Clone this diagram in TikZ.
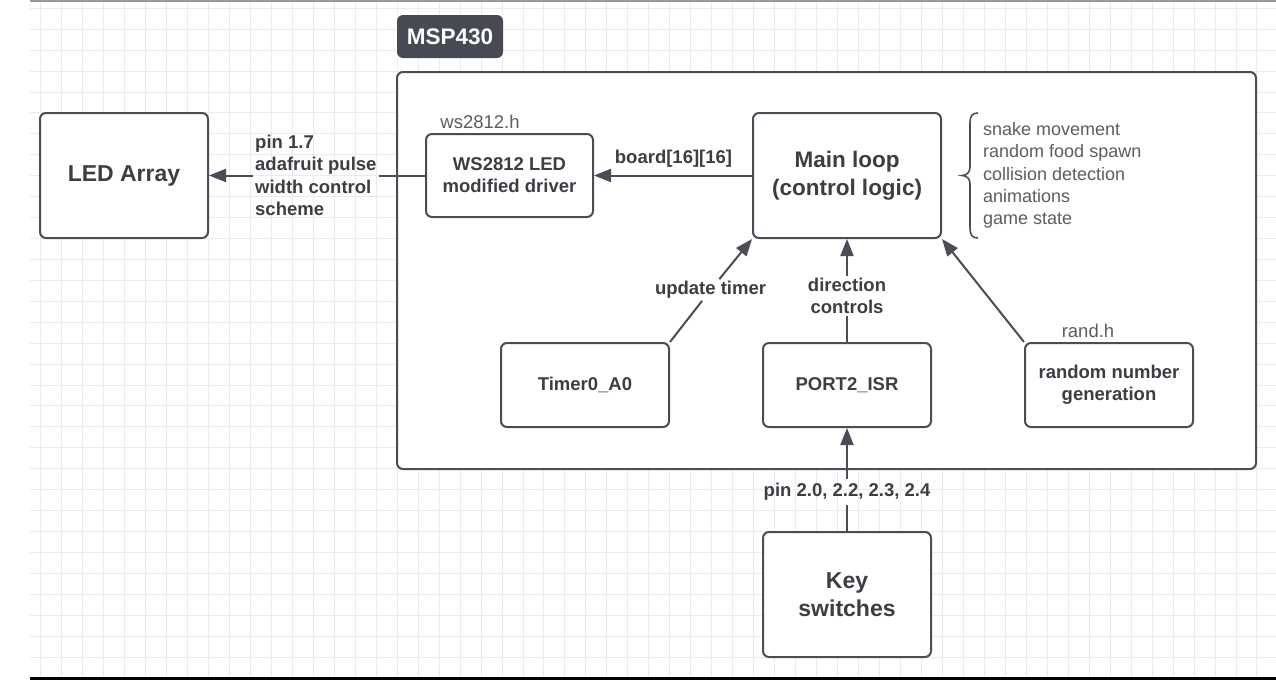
\documentclass[tikz,border=0pt]{standalone}
\usepackage{fontspec}
\setmainfont{Liberation Sans}
\usetikzlibrary{arrows.meta}
\definecolor{ln}{HTML}{4A4D55}
\definecolor{tx}{HTML}{3C3E44}
\definecolor{nt}{HTML}{5B5D62}
\definecolor{gridc}{HTML}{EBEBEB}
\definecolor{tagc}{HTML}{474A52}
\begin{document}
\begin{tikzpicture}[x=1pt,y=-1pt,
  gridline/.style={draw=gridc, line width=1pt},
  box/.style={draw=ln, line width=2pt, fill=white, rounded corners=6pt, align=center, text=tx,
    font=\bfseries\fontsize{18.5}{22}\selectfont, inner sep=0pt},
  bigbox/.style={box, font=\bfseries\fontsize{23}{28}\selectfont},
  lbl/.style={text=tx, font=\bfseries\fontsize{18.5}{22.3}\selectfont, align=center, inner sep=2pt},
  note/.style={text=nt, font=\fontsize{18.5}{22.2}\selectfont, inner sep=0pt},
  conn/.style={draw=ln, line width=2pt},
  arr/.style={conn, -{Triangle[length=17pt,width=13pt]}}]
\useasboundingbox (0,0) rectangle (1276,680);
\fill[white] (0,0) rectangle (1276,680);
% grid
\foreach \i in {0,...,58} \draw[gridline] ({40.7+20.97*\i},0) -- ({40.7+20.97*\i},677);
\foreach \j in {0,...,31} \draw[gridline] (30,{8.3+20.93*\j}) -- (1276,{8.3+20.93*\j});
\draw[draw=black!40, line width=1.5pt] (30,0.75) -- (1276,0.75);
\fill[black] (30,677) rectangle (1276,680);
% container
\draw[draw=ln, line width=2pt, fill=white, rounded corners=6pt] (397,72) rectangle (1256,469);
\node[fill=tagc, rounded corners=6pt, minimum width=106pt, minimum height=43pt, inner sep=0pt,
  text=white, font=\bfseries\fontsize{22.5}{26}\selectfont] (tag) at (450,36.5) {MSP430};
% boxes
\node[bigbox, minimum width=168pt, minimum height=125pt] (led) at (124,175.5) {LED Array};
\node[box, minimum width=167pt, minimum height=83pt] (ws) at (509.5,175.5) {WS2812 LED\\modified driver};
\node[bigbox, minimum width=188pt, minimum height=125pt, font=\bfseries\fontsize{22.5}{28.5}\selectfont] (main) at (847,175.5) {Main loop\\(control logic)};
\node[box, minimum width=168pt, minimum height=84pt] (timer) at (585,385) {Timer0\_A0};
\node[box, minimum width=168pt, minimum height=84pt] (port) at (847,385) {PORT2\_ISR};
\node[box, minimum width=168pt, minimum height=84pt] (rng) at (1109,385) {random number\\generation};
\node[bigbox, minimum width=168pt, minimum height=125pt, font=\bfseries\fontsize{23}{27.7}\selectfont] (keys) at (847,594.5) {Key\\switches};
% file notes
\node[note] (wsh) at (480,122) {ws2812.h};
\node[note] (randh) at (1088,331) {rand.h};
% brace and list
\draw[draw=ln, line width=1.6pt] (978,113) .. controls (972,113) and (970,116) .. (970,123) -- (970,167)
  .. controls (970,172) and (967,175.5) .. (962,175.5)
  .. controls (967,175.5) and (970,179) .. (970,184) -- (970,228)
  .. controls (970,235) and (972,238) .. (978,238);
\node[note, anchor=west, align=left, font=\fontsize{18}{22.2}\selectfont] (list) at (983,175.5)
  {snake movement\\random food spawn\\collision detection\\animations\\game state};
% connectors
\node[lbl, align=left, anchor=west] (pl) at (253,175.5) {pin 1.7\\adafruit pulse\\width control\\scheme};
\draw[conn] (ws.west) -- (pl);
\draw[arr] (pl) -- (led.east);
\draw[arr] (main.west) -- (ws.east);
\node[lbl] (bl) at (673.5,159) {board[16][16]};
\node[lbl] (ut) at (710.5,290) {update timer};
\draw[conn] (timer.north east) -- (ut);
\draw[arr] (ut) -- (main.south west);
\node[lbl] (dc) at (847,296) {direction\\controls};
\draw[conn] (port.north) -- (dc);
\draw[arr] (dc) -- (main.south);
\draw[arr] (rng.north west) -- (main.south east);
\node[lbl, inner sep=4pt] (pn) at (847,492) {pin 2.0, 2.2, 2.3, 2.4};
\draw[conn] (keys.north) -- (pn);
\draw[arr] (pn) -- (port.south);
\end{tikzpicture}
\end{document}
